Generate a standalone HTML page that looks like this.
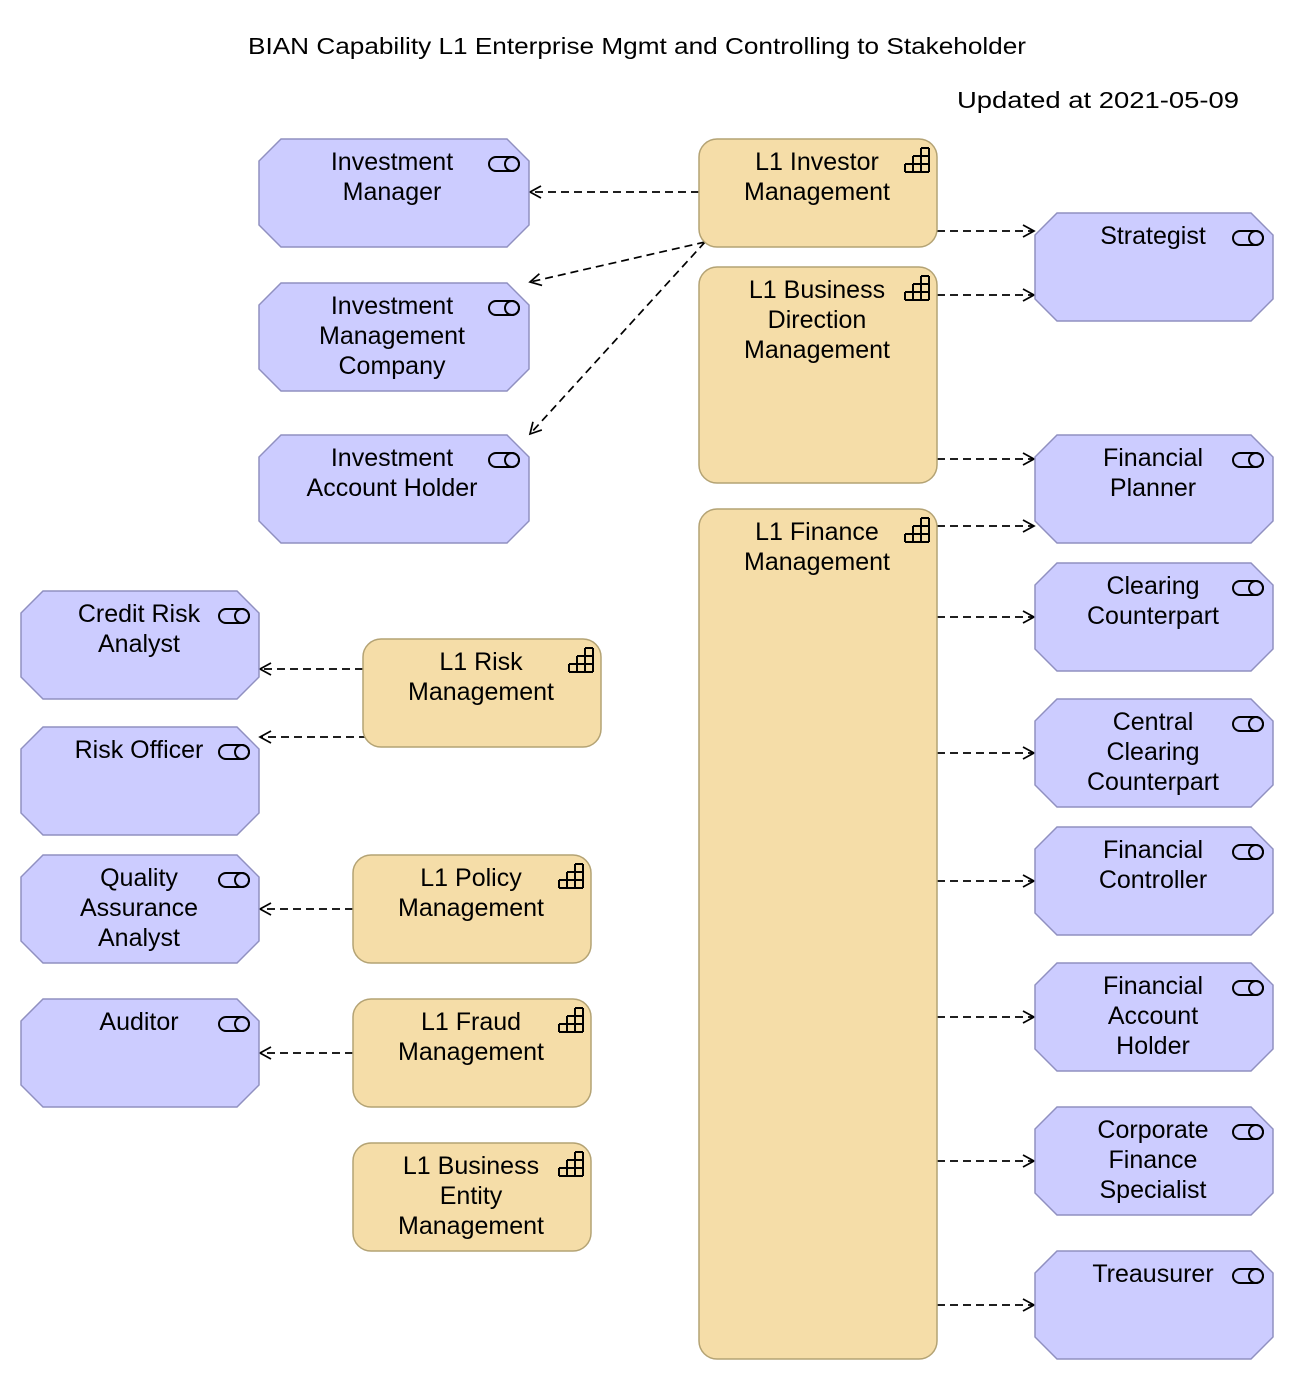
<!DOCTYPE html>
<html><head><meta charset="utf-8"><style>
html,body{margin:0;padding:0;background:#fff;}
svg{display:block;}
text{font-family:"Liberation Sans",sans-serif;font-size:25px;fill:#000;}
.s{fill:#ccccff;stroke:#9090c0;stroke-width:1.5;}
.c{fill:#f5dda8;stroke:#b4a374;stroke-width:1.5;}
.l{stroke:#000;stroke-width:1.7;stroke-dasharray:8,5;fill:none;}
.a{stroke:#000;stroke-width:1.7;fill:none;}
.i{stroke:#000;stroke-width:2;fill:none;}
</style></head><body>
<svg width="1304" height="1380" viewBox="0 0 1304 1380" xmlns="http://www.w3.org/2000/svg">
<defs>
<marker id="m" markerWidth="14" markerHeight="14" refX="12" refY="7" orient="auto" markerUnits="userSpaceOnUse">
<path d="M1,1 L12,7 L1,13" class="a"/>
</marker>
<g id="tg"><rect x="-30" y="-7" width="30" height="14" rx="7" class="i"/><circle cx="-7" cy="0" r="7" class="i"/></g>
<g id="st"><path d="M-32,24 H-8 M-32,16 H-8 M-24,8 H-8 M-16,0 H-8 M-32,16 V24 M-24,8 V24 M-16,0 V24 M-8,0 V24" class="i"/></g>
</defs>

<text x="248" y="54" textLength="778" lengthAdjust="spacingAndGlyphs" style="font-size:23px">BIAN Capability L1 Enterprise Mgmt and Controlling to Stakeholder</text>
<text x="957" y="108" textLength="282" lengthAdjust="spacingAndGlyphs" style="font-size:23px">Updated at 2021-05-09</text>

<g marker-end="url(#m)">
<line class="l" x1="699" y1="192" x2="530" y2="192"/>
<line class="l" x1="705" y1="242" x2="530" y2="282"/>
<line class="l" x1="705" y1="242" x2="530" y2="434"/>
<line class="l" x1="937" y1="231" x2="1034" y2="231"/>
<line class="l" x1="937" y1="295" x2="1034" y2="295"/>
<line class="l" x1="937" y1="459" x2="1034" y2="459"/>
<line class="l" x1="937" y1="526" x2="1034" y2="526"/>
<line class="l" x1="937" y1="617" x2="1034" y2="617"/>
<line class="l" x1="937" y1="753" x2="1034" y2="753"/>
<line class="l" x1="937" y1="881" x2="1034" y2="881"/>
<line class="l" x1="937" y1="1017" x2="1034" y2="1017"/>
<line class="l" x1="937" y1="1161" x2="1034" y2="1161"/>
<line class="l" x1="937" y1="1305" x2="1034" y2="1305"/>
<line class="l" x1="363" y1="669" x2="260" y2="669"/>
<line class="l" x1="367" y1="737" x2="260" y2="737"/>
<line class="l" x1="353" y1="909" x2="260" y2="909"/>
<line class="l" x1="353" y1="1053" x2="260" y2="1053"/>
</g>

<rect class="c" x="699" y="139" width="238" height="108" rx="18"/>
<use href="#st" x="937" y="148"/>
<text x="817" y="170" text-anchor="middle">L1 Investor</text>
<text x="817" y="200" text-anchor="middle">Management</text>

<rect class="c" x="699" y="267" width="238" height="216" rx="18"/>
<use href="#st" x="937" y="276"/>
<text x="817" y="298" text-anchor="middle">L1 Business</text>
<text x="817" y="328" text-anchor="middle">Direction</text>
<text x="817" y="358" text-anchor="middle">Management</text>

<rect class="c" x="699" y="509" width="238" height="850" rx="18"/>
<use href="#st" x="937" y="518"/>
<text x="817" y="540" text-anchor="middle">L1 Finance</text>
<text x="817" y="570" text-anchor="middle">Management</text>

<rect class="c" x="363" y="639" width="238" height="108" rx="18"/>
<use href="#st" x="601" y="648"/>
<text x="481" y="670" text-anchor="middle">L1 Risk</text>
<text x="481" y="700" text-anchor="middle">Management</text>

<rect class="c" x="353" y="855" width="238" height="108" rx="18"/>
<use href="#st" x="591" y="864"/>
<text x="471" y="886" text-anchor="middle">L1 Policy</text>
<text x="471" y="916" text-anchor="middle">Management</text>

<rect class="c" x="353" y="999" width="238" height="108" rx="18"/>
<use href="#st" x="591" y="1008"/>
<text x="471" y="1030" text-anchor="middle">L1 Fraud</text>
<text x="471" y="1060" text-anchor="middle">Management</text>

<rect class="c" x="353" y="1143" width="238" height="108" rx="18"/>
<use href="#st" x="591" y="1152"/>
<text x="471" y="1174" text-anchor="middle">L1 Business</text>
<text x="471" y="1204" text-anchor="middle">Entity</text>
<text x="471" y="1234" text-anchor="middle">Management</text>

<path class="s" d="M281,139 H507 L529,161 V225 L507,247 H281 L259,225 V161 Z"/>
<use href="#tg" x="519" y="164"/>
<text x="392" y="170" text-anchor="middle">Investment</text>
<text x="392" y="200" text-anchor="middle">Manager</text>

<path class="s" d="M281,283 H507 L529,305 V369 L507,391 H281 L259,369 V305 Z"/>
<use href="#tg" x="519" y="308"/>
<text x="392" y="314" text-anchor="middle">Investment</text>
<text x="392" y="344" text-anchor="middle">Management</text>
<text x="392" y="374" text-anchor="middle">Company</text>

<path class="s" d="M281,435 H507 L529,457 V521 L507,543 H281 L259,521 V457 Z"/>
<use href="#tg" x="519" y="460"/>
<text x="392" y="466" text-anchor="middle">Investment</text>
<text x="392" y="496" text-anchor="middle">Account Holder</text>

<path class="s" d="M1057,213 H1251 L1273,235 V299 L1251,321 H1057 L1035,299 V235 Z"/>
<use href="#tg" x="1263" y="238"/>
<text x="1153" y="244" text-anchor="middle">Strategist</text>

<path class="s" d="M1057,435 H1251 L1273,457 V521 L1251,543 H1057 L1035,521 V457 Z"/>
<use href="#tg" x="1263" y="460"/>
<text x="1153" y="466" text-anchor="middle">Financial</text>
<text x="1153" y="496" text-anchor="middle">Planner</text>

<path class="s" d="M1057,563 H1251 L1273,585 V649 L1251,671 H1057 L1035,649 V585 Z"/>
<use href="#tg" x="1263" y="588"/>
<text x="1153" y="594" text-anchor="middle">Clearing</text>
<text x="1153" y="624" text-anchor="middle">Counterpart</text>

<path class="s" d="M1057,699 H1251 L1273,721 V785 L1251,807 H1057 L1035,785 V721 Z"/>
<use href="#tg" x="1263" y="724"/>
<text x="1153" y="730" text-anchor="middle">Central</text>
<text x="1153" y="760" text-anchor="middle">Clearing</text>
<text x="1153" y="790" text-anchor="middle">Counterpart</text>

<path class="s" d="M1057,827 H1251 L1273,849 V913 L1251,935 H1057 L1035,913 V849 Z"/>
<use href="#tg" x="1263" y="852"/>
<text x="1153" y="858" text-anchor="middle">Financial</text>
<text x="1153" y="888" text-anchor="middle">Controller</text>

<path class="s" d="M1057,963 H1251 L1273,985 V1049 L1251,1071 H1057 L1035,1049 V985 Z"/>
<use href="#tg" x="1263" y="988"/>
<text x="1153" y="994" text-anchor="middle">Financial</text>
<text x="1153" y="1024" text-anchor="middle">Account</text>
<text x="1153" y="1054" text-anchor="middle">Holder</text>

<path class="s" d="M1057,1107 H1251 L1273,1129 V1193 L1251,1215 H1057 L1035,1193 V1129 Z"/>
<use href="#tg" x="1263" y="1132"/>
<text x="1153" y="1138" text-anchor="middle">Corporate</text>
<text x="1153" y="1168" text-anchor="middle">Finance</text>
<text x="1153" y="1198" text-anchor="middle">Specialist</text>

<path class="s" d="M1057,1251 H1251 L1273,1273 V1337 L1251,1359 H1057 L1035,1337 V1273 Z"/>
<use href="#tg" x="1263" y="1276"/>
<text x="1153" y="1282" text-anchor="middle">Treausurer</text>

<path class="s" d="M43,591 H237 L259,613 V677 L237,699 H43 L21,677 V613 Z"/>
<use href="#tg" x="249" y="616"/>
<text x="139" y="622" text-anchor="middle">Credit Risk</text>
<text x="139" y="652" text-anchor="middle">Analyst</text>

<path class="s" d="M43,727 H237 L259,749 V813 L237,835 H43 L21,813 V749 Z"/>
<use href="#tg" x="249" y="752"/>
<text x="139" y="758" text-anchor="middle">Risk Officer</text>

<path class="s" d="M43,855 H237 L259,877 V941 L237,963 H43 L21,941 V877 Z"/>
<use href="#tg" x="249" y="880"/>
<text x="139" y="886" text-anchor="middle">Quality</text>
<text x="139" y="916" text-anchor="middle">Assurance</text>
<text x="139" y="946" text-anchor="middle">Analyst</text>

<path class="s" d="M43,999 H237 L259,1021 V1085 L237,1107 H43 L21,1085 V1021 Z"/>
<use href="#tg" x="249" y="1024"/>
<text x="139" y="1030" text-anchor="middle">Auditor</text>
</svg>
</body></html>
